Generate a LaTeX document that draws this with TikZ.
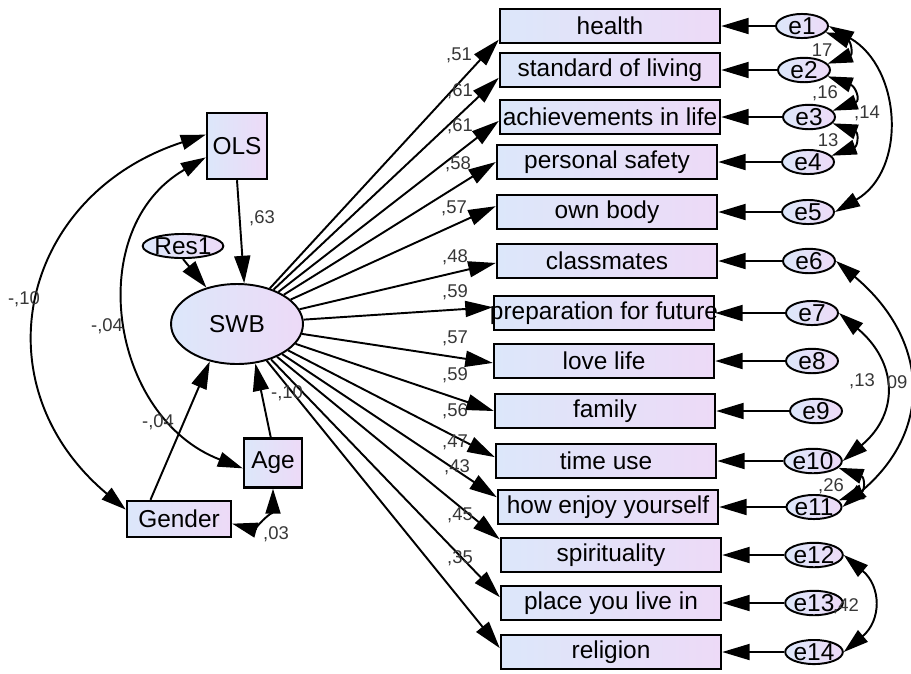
\documentclass[tikz,border=0pt]{standalone}
\usepackage{fontspec}
\setmainfont{Liberation Sans}
\usetikzlibrary{arrows.meta,shapes.geometric}
\definecolor{amosblue}{RGB}{220,231,250}
\definecolor{amospink}{RGB}{237,218,247}
\definecolor{coefgray}{RGB}{55,55,55}

\begin{document}
\begin{tikzpicture}[x=0.02cm,y=-0.02cm,line width=1.1pt,
	reg/.style={-{Triangle[length=0.55cm,width=0.32cm]}},
	cov/.style={{Triangle[length=0.5cm,width=0.3cm]}-{Triangle[length=0.5cm,width=0.3cm]}},
	every node/.style={font=\fontsize{13.9}{15}\selectfont,inner sep=0pt},
	var/.style={draw,rectangle,line width=1.4pt,left color=amosblue,right color=amospink},
	obs/.style={var,minimum width=4.4cm,minimum height=0.68cm,
		execute at begin node={\hbox to 4cm\bgroup\hss},execute at end node={\hss\egroup}},
	lat/.style={draw,ellipse,left color=amosblue,right color=amospink},
	err/.style={lat,minimum width=1.04cm,minimum height=0.42cm},
	coef/.style={font=\fontsize{10.5}{12}\selectfont,text=coefgray}]
	\useasboundingbox (0,0) rectangle (911,673);

	\node[obs] (health) at (610,26) {health};
	\node[obs] (living) at (610,70) {standard of living};
	\node[obs] (achieve) at (610,117) {achievements in life};
	\node[obs] (safety) at (607,162) {personal safety};
	\node[obs] (body) at (607,212) {own body};
	\node[obs] (mates) at (607,261) {classmates};
	\node[obs] (future) at (604,313) {preparation for future};
	\node[obs] (love) at (604,361) {love life};
	\node[obs] (family) at (605,411) {family};
	\node[obs] (time) at (606,461) {time use};
	\node[obs] (enjoy) at (608,507) {how enjoy yourself};
	\node[obs] (spirit) at (611,555) {spirituality};
	\node[obs] (place) at (611,603) {place you live in};
	\node[obs] (religion) at (611,652) {religion};

	\node[err] (e1) at (802,26) {e1};
	\node[err] (e2) at (804,70) {e2};
	\node[err] (e3) at (809,117) {e3};
	\node[err] (e4) at (808,162) {e4};
	\node[err] (e5) at (808,212) {e5};
	\node[err] (e6) at (809,261) {e6};
	\node[err] (e7) at (812,313) {e7};
	\node[err] (e8) at (812,361) {e8};
	\node[err] (e9) at (816,411) {e9};
	\node[err] (e10) at (813,461) {e10};
	\node[err] (e11) at (814,507) {e11};
	\node[err] (e12) at (814,555) {e12};
	\node[err] (e13) at (814,603) {e13};
	\node[err] (e14) at (814,652) {e14};

	\node[var,minimum width=1.2cm,minimum height=1.32cm] (OLS) at (237,146) {OLS};
	\node[lat,minimum width=2.64cm,minimum height=1.6cm] (SWB) at (237,324) {SWB};
	\node[err,minimum width=1.42cm,minimum height=0.44cm] (Res1) at (183,246) {Res1};
	\node[var,minimum width=1.16cm,minimum height=0.98cm] (Age) at (273,463) {Age};
	\node[var,minimum width=2.08cm,minimum height=0.72cm] (Gender) at (179,519) {Gender};

	\draw[reg] (e1) edge (health) (e2) edge (living) (e3) edge (achieve) (e4) edge (safety)
		(e5) edge (body) (e6) edge (mates) (e7) edge (future) (e8) edge (love)
		(e9) edge (family) (e10) edge (time) (e11) edge (enjoy) (e12) edge (spirit)
		(e13) edge (place) (e14) edge (religion);

	\draw[reg] (SWB) edge (health.187) (SWB) edge (living.184) (SWB) edge (achieve.182)
		(SWB) edge (safety.180) (SWB) edge (body.177) (SWB) edge (mates.181)
		(SWB) edge (future.177) (SWB) edge (love.181) (SWB) edge (family.180)
		(SWB) edge (time.178) (SWB) edge (enjoy.175) (SWB) edge (spirit.172)
		(SWB) edge (place.177) (SWB) edge (religion.178);

	\draw[reg] (OLS.south) -- (SWB.80);
	\draw[reg] (Res1.south) -- (SWB.130);
	\draw[reg] (Gender.146) -- (SWB.234);
	\draw[reg] (Age.95) -- (SWB.-65);

	\draw[cov] (OLS.160) to[out=198,in=140,looseness=1.3] (Gender.170);
	\draw[cov] (OLS.200) to[out=210,in=159,looseness=1.17] (Age.190);
	\draw[cov] (Gender.-5) to[out=-15,in=-90] (Age.south);

	\draw[cov] (e1.-15) to[out=-20,in=20,looseness=2.2] (e2.15);
	\draw[cov] (e2.-15) to[out=-20,in=20,looseness=2.2] (e3.15);
	\draw[cov] (e3.-15) to[out=-20,in=20,looseness=2.2] (e4.15);
	\draw[cov] (e1.east) to[out=-30,in=30,looseness=1.15] (e5.east);
	\draw[cov] (e6.east) to[out=-40,in=40,looseness=1.25] (e11.east);
	\draw[cov] (e7.east) to[out=-40,in=40,looseness=1.3] (e10.east);
	\draw[cov] (e10.-15) to[out=-20,in=20,looseness=2.2] (e11.15);
	\draw[cov] (e12.east) to[out=-40,in=40,looseness=1.3] (e14.east);

	\node[coef] (l1) at (459,55) {,51};
	\node[coef] (l2) at (460,91) {,61};
	\node[coef] (l3) at (460,126) {,61};
	\node[coef] (l4) at (458,164) {,58};
	\node[coef] (l5) at (454,208) {,57};
	\node[coef] (l6) at (455,257) {,48};
	\node[coef] (l7) at (455,292) {,59};
	\node[coef] (l8) at (455,338) {,57};
	\node[coef] (l9) at (455,375) {,59};
	\node[coef] (l10) at (455,411) {,56};
	\node[coef] (l11) at (455,442) {,47};
	\node[coef] (l12) at (457,467) {,43};
	\node[coef] (l13) at (460,515) {,45};
	\node[coef] (l14) at (460,558) {,35};

	\node[coef] (r63) at (262,218) {,63};
	\node[coef] (rgender) at (158,422) {-,04};
	\node[coef] (rage) at (287,393) {-,10};
	\node[coef] (cgender) at (24,299) {-,10};
	\node[coef] (cage) at (107,326) {-,04};
	\node[coef] (cga) at (276,534) {,03};

	\node[coef] (c12) at (822,50) {17};
	\node[coef] (c23) at (825,93) {,16};
	\node[coef] (c34) at (828,140) {13};
	\node[coef] (c15) at (867,113) {,14};
	\node[coef] (c710) at (862,381) {,13};
	\node[coef] (c611) at (897,382) {09};
	\node[coef] (c1011) at (831,486) {,26};
	\node[coef] (c1214) at (846,606) {,42};
\end{tikzpicture}
\end{document}
